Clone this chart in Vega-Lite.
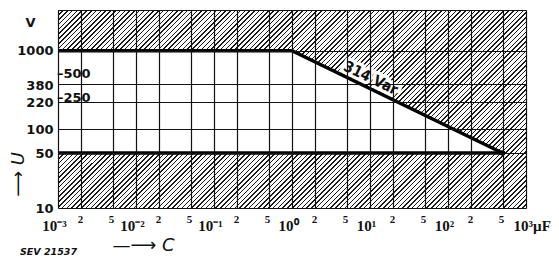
{
  "$schema": "https://vega.github.io/schema/vega-lite/v6.json",
  "width": 468,
  "height": 198,
  "autosize": {"type": "none"},
  "padding": {"left": 58, "top": 10, "right": 33, "bottom": 50},
  "background": "white",
  "config": {"view": {"stroke": null}},
  "title": {"text": "SEV 21537", "orient": "bottom", "anchor": "start", "frame": "group", "dx": -38, "dy": -11, "fontSize": 9.5, "fontStyle": "italic", "fontWeight": "bold", "font": "DejaVu Sans", "color": "#111"},
  "datasets": {
    "limit": [
      {"C": 0.001, "Umax": 1000, "Umin": 50},
      {"C": 1, "Umax": 1000, "Umin": 50},
      {"C": 500, "Umax": 50, "Umin": 50}
    ],
    "notes": [
      {"C": 0.001, "U": 500, "label": "–500"},
      {"C": 0.001, "U": 250, "label": "–250"}
    ],
    "curve": [
      {"C": 9, "U": 347, "label": "314 Var"}
    ]
  },
  "layer": [
    {
      "data": {"values": [{"region": "forbidden"}]},
      "mark": {"type": "rect", "stroke": null, "fill": {"gradient": "linear", "x1": 0, "y1": 0, "x2": 1.207, "y2": 0.5107, "stops": [
{"offset":0,"color":"#1a1a1a"},{"offset":0.0022,"color":"#1a1a1a"},{"offset":0.0022,"color":"#fff"},
{"offset":0.0072,"color":"#fff"},{"offset":0.0072,"color":"#1a1a1a"},{"offset":0.0094,"color":"#1a1a1a"},{"offset":0.0094,"color":"#fff"},
{"offset":0.0144,"color":"#fff"},{"offset":0.0144,"color":"#1a1a1a"},{"offset":0.0166,"color":"#1a1a1a"},{"offset":0.0166,"color":"#fff"},
{"offset":0.0216,"color":"#fff"},{"offset":0.0216,"color":"#1a1a1a"},{"offset":0.0238,"color":"#1a1a1a"},{"offset":0.0238,"color":"#fff"},
{"offset":0.0288,"color":"#fff"},{"offset":0.0288,"color":"#1a1a1a"},{"offset":0.031,"color":"#1a1a1a"},{"offset":0.031,"color":"#fff"},
{"offset":0.036,"color":"#fff"},{"offset":0.036,"color":"#1a1a1a"},{"offset":0.0382,"color":"#1a1a1a"},{"offset":0.0382,"color":"#fff"},
{"offset":0.0432,"color":"#fff"},{"offset":0.0432,"color":"#1a1a1a"},{"offset":0.0454,"color":"#1a1a1a"},{"offset":0.0454,"color":"#fff"},
{"offset":0.0504,"color":"#fff"},{"offset":0.0504,"color":"#1a1a1a"},{"offset":0.0526,"color":"#1a1a1a"},{"offset":0.0526,"color":"#fff"},
{"offset":0.0576,"color":"#fff"},{"offset":0.0576,"color":"#1a1a1a"},{"offset":0.0598,"color":"#1a1a1a"},{"offset":0.0598,"color":"#fff"},
{"offset":0.0648,"color":"#fff"},{"offset":0.0648,"color":"#1a1a1a"},{"offset":0.067,"color":"#1a1a1a"},{"offset":0.067,"color":"#fff"},
{"offset":0.072,"color":"#fff"},{"offset":0.072,"color":"#1a1a1a"},{"offset":0.0742,"color":"#1a1a1a"},{"offset":0.0742,"color":"#fff"},
{"offset":0.0792,"color":"#fff"},{"offset":0.0792,"color":"#1a1a1a"},{"offset":0.0814,"color":"#1a1a1a"},{"offset":0.0814,"color":"#fff"},
{"offset":0.0864,"color":"#fff"},{"offset":0.0864,"color":"#1a1a1a"},{"offset":0.0886,"color":"#1a1a1a"},{"offset":0.0886,"color":"#fff"},
{"offset":0.0936,"color":"#fff"},{"offset":0.0936,"color":"#1a1a1a"},{"offset":0.0958,"color":"#1a1a1a"},{"offset":0.0958,"color":"#fff"},
{"offset":0.1008,"color":"#fff"},{"offset":0.1008,"color":"#1a1a1a"},{"offset":0.103,"color":"#1a1a1a"},{"offset":0.103,"color":"#fff"},
{"offset":0.108,"color":"#fff"},{"offset":0.108,"color":"#1a1a1a"},{"offset":0.1102,"color":"#1a1a1a"},{"offset":0.1102,"color":"#fff"},
{"offset":0.1152,"color":"#fff"},{"offset":0.1152,"color":"#1a1a1a"},{"offset":0.1174,"color":"#1a1a1a"},{"offset":0.1174,"color":"#fff"},
{"offset":0.1224,"color":"#fff"},{"offset":0.1224,"color":"#1a1a1a"},{"offset":0.1246,"color":"#1a1a1a"},{"offset":0.1246,"color":"#fff"},
{"offset":0.1296,"color":"#fff"},{"offset":0.1296,"color":"#1a1a1a"},{"offset":0.1318,"color":"#1a1a1a"},{"offset":0.1318,"color":"#fff"},
{"offset":0.1368,"color":"#fff"},{"offset":0.1368,"color":"#1a1a1a"},{"offset":0.139,"color":"#1a1a1a"},{"offset":0.139,"color":"#fff"},
{"offset":0.144,"color":"#fff"},{"offset":0.144,"color":"#1a1a1a"},{"offset":0.1462,"color":"#1a1a1a"},{"offset":0.1462,"color":"#fff"},
{"offset":0.1512,"color":"#fff"},{"offset":0.1512,"color":"#1a1a1a"},{"offset":0.1534,"color":"#1a1a1a"},{"offset":0.1534,"color":"#fff"},
{"offset":0.1584,"color":"#fff"},{"offset":0.1584,"color":"#1a1a1a"},{"offset":0.1606,"color":"#1a1a1a"},{"offset":0.1606,"color":"#fff"},
{"offset":0.1656,"color":"#fff"},{"offset":0.1656,"color":"#1a1a1a"},{"offset":0.1678,"color":"#1a1a1a"},{"offset":0.1678,"color":"#fff"},
{"offset":0.1728,"color":"#fff"},{"offset":0.1728,"color":"#1a1a1a"},{"offset":0.175,"color":"#1a1a1a"},{"offset":0.175,"color":"#fff"},
{"offset":0.18,"color":"#fff"},{"offset":0.18,"color":"#1a1a1a"},{"offset":0.1822,"color":"#1a1a1a"},{"offset":0.1822,"color":"#fff"},
{"offset":0.1872,"color":"#fff"},{"offset":0.1872,"color":"#1a1a1a"},{"offset":0.1894,"color":"#1a1a1a"},{"offset":0.1894,"color":"#fff"},
{"offset":0.1944,"color":"#fff"},{"offset":0.1944,"color":"#1a1a1a"},{"offset":0.1966,"color":"#1a1a1a"},{"offset":0.1966,"color":"#fff"},
{"offset":0.2016,"color":"#fff"},{"offset":0.2016,"color":"#1a1a1a"},{"offset":0.2038,"color":"#1a1a1a"},{"offset":0.2038,"color":"#fff"},
{"offset":0.2088,"color":"#fff"},{"offset":0.2088,"color":"#1a1a1a"},{"offset":0.211,"color":"#1a1a1a"},{"offset":0.211,"color":"#fff"},
{"offset":0.216,"color":"#fff"},{"offset":0.216,"color":"#1a1a1a"},{"offset":0.2182,"color":"#1a1a1a"},{"offset":0.2182,"color":"#fff"},
{"offset":0.2232,"color":"#fff"},{"offset":0.2232,"color":"#1a1a1a"},{"offset":0.2254,"color":"#1a1a1a"},{"offset":0.2254,"color":"#fff"},
{"offset":0.2304,"color":"#fff"},{"offset":0.2304,"color":"#1a1a1a"},{"offset":0.2326,"color":"#1a1a1a"},{"offset":0.2326,"color":"#fff"},
{"offset":0.2376,"color":"#fff"},{"offset":0.2376,"color":"#1a1a1a"},{"offset":0.2398,"color":"#1a1a1a"},{"offset":0.2398,"color":"#fff"},
{"offset":0.2448,"color":"#fff"},{"offset":0.2448,"color":"#1a1a1a"},{"offset":0.247,"color":"#1a1a1a"},{"offset":0.247,"color":"#fff"},
{"offset":0.252,"color":"#fff"},{"offset":0.252,"color":"#1a1a1a"},{"offset":0.2542,"color":"#1a1a1a"},{"offset":0.2542,"color":"#fff"},
{"offset":0.2592,"color":"#fff"},{"offset":0.2592,"color":"#1a1a1a"},{"offset":0.2614,"color":"#1a1a1a"},{"offset":0.2614,"color":"#fff"},
{"offset":0.2664,"color":"#fff"},{"offset":0.2664,"color":"#1a1a1a"},{"offset":0.2686,"color":"#1a1a1a"},{"offset":0.2686,"color":"#fff"},
{"offset":0.2736,"color":"#fff"},{"offset":0.2736,"color":"#1a1a1a"},{"offset":0.2758,"color":"#1a1a1a"},{"offset":0.2758,"color":"#fff"},
{"offset":0.2808,"color":"#fff"},{"offset":0.2808,"color":"#1a1a1a"},{"offset":0.283,"color":"#1a1a1a"},{"offset":0.283,"color":"#fff"},
{"offset":0.288,"color":"#fff"},{"offset":0.288,"color":"#1a1a1a"},{"offset":0.2902,"color":"#1a1a1a"},{"offset":0.2902,"color":"#fff"},
{"offset":0.2952,"color":"#fff"},{"offset":0.2952,"color":"#1a1a1a"},{"offset":0.2974,"color":"#1a1a1a"},{"offset":0.2974,"color":"#fff"},
{"offset":0.3024,"color":"#fff"},{"offset":0.3024,"color":"#1a1a1a"},{"offset":0.3046,"color":"#1a1a1a"},{"offset":0.3046,"color":"#fff"},
{"offset":0.3096,"color":"#fff"},{"offset":0.3096,"color":"#1a1a1a"},{"offset":0.3118,"color":"#1a1a1a"},{"offset":0.3118,"color":"#fff"},
{"offset":0.3168,"color":"#fff"},{"offset":0.3168,"color":"#1a1a1a"},{"offset":0.319,"color":"#1a1a1a"},{"offset":0.319,"color":"#fff"},
{"offset":0.324,"color":"#fff"},{"offset":0.324,"color":"#1a1a1a"},{"offset":0.3262,"color":"#1a1a1a"},{"offset":0.3262,"color":"#fff"},
{"offset":0.3312,"color":"#fff"},{"offset":0.3312,"color":"#1a1a1a"},{"offset":0.3334,"color":"#1a1a1a"},{"offset":0.3334,"color":"#fff"},
{"offset":0.3384,"color":"#fff"},{"offset":0.3384,"color":"#1a1a1a"},{"offset":0.3406,"color":"#1a1a1a"},{"offset":0.3406,"color":"#fff"},
{"offset":0.3456,"color":"#fff"},{"offset":0.3456,"color":"#1a1a1a"},{"offset":0.3478,"color":"#1a1a1a"},{"offset":0.3478,"color":"#fff"},
{"offset":0.3528,"color":"#fff"},{"offset":0.3528,"color":"#1a1a1a"},{"offset":0.355,"color":"#1a1a1a"},{"offset":0.355,"color":"#fff"},
{"offset":0.36,"color":"#fff"},{"offset":0.36,"color":"#1a1a1a"},{"offset":0.3622,"color":"#1a1a1a"},{"offset":0.3622,"color":"#fff"},
{"offset":0.3672,"color":"#fff"},{"offset":0.3672,"color":"#1a1a1a"},{"offset":0.3694,"color":"#1a1a1a"},{"offset":0.3694,"color":"#fff"},
{"offset":0.3744,"color":"#fff"},{"offset":0.3744,"color":"#1a1a1a"},{"offset":0.3766,"color":"#1a1a1a"},{"offset":0.3766,"color":"#fff"},
{"offset":0.3816,"color":"#fff"},{"offset":0.3816,"color":"#1a1a1a"},{"offset":0.3838,"color":"#1a1a1a"},{"offset":0.3838,"color":"#fff"},
{"offset":0.3888,"color":"#fff"},{"offset":0.3888,"color":"#1a1a1a"},{"offset":0.391,"color":"#1a1a1a"},{"offset":0.391,"color":"#fff"},
{"offset":0.396,"color":"#fff"},{"offset":0.396,"color":"#1a1a1a"},{"offset":0.3982,"color":"#1a1a1a"},{"offset":0.3982,"color":"#fff"},
{"offset":0.4032,"color":"#fff"},{"offset":0.4032,"color":"#1a1a1a"},{"offset":0.4054,"color":"#1a1a1a"},{"offset":0.4054,"color":"#fff"},
{"offset":0.4104,"color":"#fff"},{"offset":0.4104,"color":"#1a1a1a"},{"offset":0.4126,"color":"#1a1a1a"},{"offset":0.4126,"color":"#fff"},
{"offset":0.4176,"color":"#fff"},{"offset":0.4176,"color":"#1a1a1a"},{"offset":0.4198,"color":"#1a1a1a"},{"offset":0.4198,"color":"#fff"},
{"offset":0.4248,"color":"#fff"},{"offset":0.4248,"color":"#1a1a1a"},{"offset":0.427,"color":"#1a1a1a"},{"offset":0.427,"color":"#fff"},
{"offset":0.432,"color":"#fff"},{"offset":0.432,"color":"#1a1a1a"},{"offset":0.4342,"color":"#1a1a1a"},{"offset":0.4342,"color":"#fff"},
{"offset":0.4392,"color":"#fff"},{"offset":0.4392,"color":"#1a1a1a"},{"offset":0.4414,"color":"#1a1a1a"},{"offset":0.4414,"color":"#fff"},
{"offset":0.4464,"color":"#fff"},{"offset":0.4464,"color":"#1a1a1a"},{"offset":0.4486,"color":"#1a1a1a"},{"offset":0.4486,"color":"#fff"},
{"offset":0.4536,"color":"#fff"},{"offset":0.4536,"color":"#1a1a1a"},{"offset":0.4558,"color":"#1a1a1a"},{"offset":0.4558,"color":"#fff"},
{"offset":0.4608,"color":"#fff"},{"offset":0.4608,"color":"#1a1a1a"},{"offset":0.463,"color":"#1a1a1a"},{"offset":0.463,"color":"#fff"},
{"offset":0.468,"color":"#fff"},{"offset":0.468,"color":"#1a1a1a"},{"offset":0.4702,"color":"#1a1a1a"},{"offset":0.4702,"color":"#fff"},
{"offset":0.4752,"color":"#fff"},{"offset":0.4752,"color":"#1a1a1a"},{"offset":0.4774,"color":"#1a1a1a"},{"offset":0.4774,"color":"#fff"},
{"offset":0.4824,"color":"#fff"},{"offset":0.4824,"color":"#1a1a1a"},{"offset":0.4846,"color":"#1a1a1a"},{"offset":0.4846,"color":"#fff"},
{"offset":0.4896,"color":"#fff"},{"offset":0.4896,"color":"#1a1a1a"},{"offset":0.4918,"color":"#1a1a1a"},{"offset":0.4918,"color":"#fff"},
{"offset":0.4968,"color":"#fff"},{"offset":0.4968,"color":"#1a1a1a"},{"offset":0.499,"color":"#1a1a1a"},{"offset":0.499,"color":"#fff"},
{"offset":0.504,"color":"#fff"},{"offset":0.504,"color":"#1a1a1a"},{"offset":0.5062,"color":"#1a1a1a"},{"offset":0.5062,"color":"#fff"},
{"offset":0.5112,"color":"#fff"},{"offset":0.5112,"color":"#1a1a1a"},{"offset":0.5134,"color":"#1a1a1a"},{"offset":0.5134,"color":"#fff"},
{"offset":0.5184,"color":"#fff"},{"offset":0.5184,"color":"#1a1a1a"},{"offset":0.5206,"color":"#1a1a1a"},{"offset":0.5206,"color":"#fff"},
{"offset":0.5256,"color":"#fff"},{"offset":0.5256,"color":"#1a1a1a"},{"offset":0.5278,"color":"#1a1a1a"},{"offset":0.5278,"color":"#fff"},
{"offset":0.5328,"color":"#fff"},{"offset":0.5328,"color":"#1a1a1a"},{"offset":0.535,"color":"#1a1a1a"},{"offset":0.535,"color":"#fff"},
{"offset":0.54,"color":"#fff"},{"offset":0.54,"color":"#1a1a1a"},{"offset":0.5422,"color":"#1a1a1a"},{"offset":0.5422,"color":"#fff"},
{"offset":0.5472,"color":"#fff"},{"offset":0.5472,"color":"#1a1a1a"},{"offset":0.5494,"color":"#1a1a1a"},{"offset":0.5494,"color":"#fff"},
{"offset":0.5544,"color":"#fff"},{"offset":0.5544,"color":"#1a1a1a"},{"offset":0.5566,"color":"#1a1a1a"},{"offset":0.5566,"color":"#fff"},
{"offset":0.5616,"color":"#fff"},{"offset":0.5616,"color":"#1a1a1a"},{"offset":0.5638,"color":"#1a1a1a"},{"offset":0.5638,"color":"#fff"},
{"offset":0.5688,"color":"#fff"},{"offset":0.5688,"color":"#1a1a1a"},{"offset":0.571,"color":"#1a1a1a"},{"offset":0.571,"color":"#fff"},
{"offset":0.576,"color":"#fff"},{"offset":0.576,"color":"#1a1a1a"},{"offset":0.5782,"color":"#1a1a1a"},{"offset":0.5782,"color":"#fff"},
{"offset":0.5832,"color":"#fff"},{"offset":0.5832,"color":"#1a1a1a"},{"offset":0.5854,"color":"#1a1a1a"},{"offset":0.5854,"color":"#fff"},
{"offset":0.5904,"color":"#fff"},{"offset":0.5904,"color":"#1a1a1a"},{"offset":0.5926,"color":"#1a1a1a"},{"offset":0.5926,"color":"#fff"},
{"offset":0.5976,"color":"#fff"},{"offset":0.5976,"color":"#1a1a1a"},{"offset":0.5998,"color":"#1a1a1a"},{"offset":0.5998,"color":"#fff"},
{"offset":0.6048,"color":"#fff"},{"offset":0.6048,"color":"#1a1a1a"},{"offset":0.607,"color":"#1a1a1a"},{"offset":0.607,"color":"#fff"},
{"offset":0.612,"color":"#fff"},{"offset":0.612,"color":"#1a1a1a"},{"offset":0.6142,"color":"#1a1a1a"},{"offset":0.6142,"color":"#fff"},
{"offset":0.6192,"color":"#fff"},{"offset":0.6192,"color":"#1a1a1a"},{"offset":0.6214,"color":"#1a1a1a"},{"offset":0.6214,"color":"#fff"},
{"offset":0.6264,"color":"#fff"},{"offset":0.6264,"color":"#1a1a1a"},{"offset":0.6286,"color":"#1a1a1a"},{"offset":0.6286,"color":"#fff"},
{"offset":0.6336,"color":"#fff"},{"offset":0.6336,"color":"#1a1a1a"},{"offset":0.6358,"color":"#1a1a1a"},{"offset":0.6358,"color":"#fff"},
{"offset":0.6408,"color":"#fff"},{"offset":0.6408,"color":"#1a1a1a"},{"offset":0.643,"color":"#1a1a1a"},{"offset":0.643,"color":"#fff"},
{"offset":0.648,"color":"#fff"},{"offset":0.648,"color":"#1a1a1a"},{"offset":0.6502,"color":"#1a1a1a"},{"offset":0.6502,"color":"#fff"},
{"offset":0.6552,"color":"#fff"},{"offset":0.6552,"color":"#1a1a1a"},{"offset":0.6574,"color":"#1a1a1a"},{"offset":0.6574,"color":"#fff"},
{"offset":0.6624,"color":"#fff"},{"offset":0.6624,"color":"#1a1a1a"},{"offset":0.6646,"color":"#1a1a1a"},{"offset":0.6646,"color":"#fff"},
{"offset":0.6696,"color":"#fff"},{"offset":0.6696,"color":"#1a1a1a"},{"offset":0.6718,"color":"#1a1a1a"},{"offset":0.6718,"color":"#fff"},
{"offset":0.6768,"color":"#fff"},{"offset":0.6768,"color":"#1a1a1a"},{"offset":0.679,"color":"#1a1a1a"},{"offset":0.679,"color":"#fff"},
{"offset":0.684,"color":"#fff"},{"offset":0.684,"color":"#1a1a1a"},{"offset":0.6862,"color":"#1a1a1a"},{"offset":0.6862,"color":"#fff"},
{"offset":0.6912,"color":"#fff"},{"offset":0.6912,"color":"#1a1a1a"},{"offset":0.6934,"color":"#1a1a1a"},{"offset":0.6934,"color":"#fff"},
{"offset":0.6984,"color":"#fff"},{"offset":0.6984,"color":"#1a1a1a"},{"offset":0.7006,"color":"#1a1a1a"},{"offset":0.7006,"color":"#fff"},
{"offset":0.7056,"color":"#fff"},{"offset":0.7056,"color":"#1a1a1a"},{"offset":0.7078,"color":"#1a1a1a"},{"offset":0.7078,"color":"#fff"},
{"offset":0.7128,"color":"#fff"},{"offset":0.7128,"color":"#1a1a1a"},{"offset":0.715,"color":"#1a1a1a"},{"offset":0.715,"color":"#fff"},
{"offset":0.72,"color":"#fff"},{"offset":0.72,"color":"#1a1a1a"},{"offset":0.7222,"color":"#1a1a1a"},{"offset":0.7222,"color":"#fff"},
{"offset":0.7272,"color":"#fff"},{"offset":0.7272,"color":"#1a1a1a"},{"offset":0.7294,"color":"#1a1a1a"},{"offset":0.7294,"color":"#fff"},
{"offset":0.7344,"color":"#fff"},{"offset":0.7344,"color":"#1a1a1a"},{"offset":0.7366,"color":"#1a1a1a"},{"offset":0.7366,"color":"#fff"},
{"offset":0.7416,"color":"#fff"},{"offset":0.7416,"color":"#1a1a1a"},{"offset":0.7438,"color":"#1a1a1a"},{"offset":0.7438,"color":"#fff"},
{"offset":0.7488,"color":"#fff"},{"offset":0.7488,"color":"#1a1a1a"},{"offset":0.751,"color":"#1a1a1a"},{"offset":0.751,"color":"#fff"},
{"offset":0.756,"color":"#fff"},{"offset":0.756,"color":"#1a1a1a"},{"offset":0.7582,"color":"#1a1a1a"},{"offset":0.7582,"color":"#fff"},
{"offset":0.7632,"color":"#fff"},{"offset":0.7632,"color":"#1a1a1a"},{"offset":0.7654,"color":"#1a1a1a"},{"offset":0.7654,"color":"#fff"},
{"offset":0.7704,"color":"#fff"},{"offset":0.7704,"color":"#1a1a1a"},{"offset":0.7726,"color":"#1a1a1a"},{"offset":0.7726,"color":"#fff"},
{"offset":0.7776,"color":"#fff"},{"offset":0.7776,"color":"#1a1a1a"},{"offset":0.7798,"color":"#1a1a1a"},{"offset":0.7798,"color":"#fff"},
{"offset":0.7848,"color":"#fff"},{"offset":0.7848,"color":"#1a1a1a"},{"offset":0.787,"color":"#1a1a1a"},{"offset":0.787,"color":"#fff"},
{"offset":0.792,"color":"#fff"},{"offset":0.792,"color":"#1a1a1a"},{"offset":0.7942,"color":"#1a1a1a"},{"offset":0.7942,"color":"#fff"},
{"offset":0.7992,"color":"#fff"},{"offset":0.7992,"color":"#1a1a1a"},{"offset":0.8014,"color":"#1a1a1a"},{"offset":0.8014,"color":"#fff"},
{"offset":0.8064,"color":"#fff"},{"offset":0.8064,"color":"#1a1a1a"},{"offset":0.8086,"color":"#1a1a1a"},{"offset":0.8086,"color":"#fff"},
{"offset":0.8136,"color":"#fff"},{"offset":0.8136,"color":"#1a1a1a"},{"offset":0.8158,"color":"#1a1a1a"},{"offset":0.8158,"color":"#fff"},
{"offset":0.8208,"color":"#fff"},{"offset":0.8208,"color":"#1a1a1a"},{"offset":0.823,"color":"#1a1a1a"},{"offset":0.823,"color":"#fff"},
{"offset":0.828,"color":"#fff"},{"offset":0.828,"color":"#1a1a1a"},{"offset":0.8302,"color":"#1a1a1a"},{"offset":0.8302,"color":"#fff"},
{"offset":0.8352,"color":"#fff"},{"offset":0.8352,"color":"#1a1a1a"},{"offset":0.8374,"color":"#1a1a1a"},{"offset":0.8374,"color":"#fff"},
{"offset":0.8424,"color":"#fff"},{"offset":0.8424,"color":"#1a1a1a"},{"offset":0.8446,"color":"#1a1a1a"},{"offset":0.8446,"color":"#fff"},
{"offset":0.8496,"color":"#fff"},{"offset":0.8496,"color":"#1a1a1a"},{"offset":0.8518,"color":"#1a1a1a"},{"offset":0.8518,"color":"#fff"},
{"offset":0.8568,"color":"#fff"},{"offset":0.8568,"color":"#1a1a1a"},{"offset":0.859,"color":"#1a1a1a"},{"offset":0.859,"color":"#fff"},
{"offset":0.864,"color":"#fff"},{"offset":0.864,"color":"#1a1a1a"},{"offset":0.8662,"color":"#1a1a1a"},{"offset":0.8662,"color":"#fff"},
{"offset":0.8712,"color":"#fff"},{"offset":0.8712,"color":"#1a1a1a"},{"offset":0.8734,"color":"#1a1a1a"},{"offset":0.8734,"color":"#fff"},
{"offset":0.8784,"color":"#fff"},{"offset":0.8784,"color":"#1a1a1a"},{"offset":0.8806,"color":"#1a1a1a"},{"offset":0.8806,"color":"#fff"},
{"offset":0.8856,"color":"#fff"},{"offset":0.8856,"color":"#1a1a1a"},{"offset":0.8878,"color":"#1a1a1a"},{"offset":0.8878,"color":"#fff"},
{"offset":0.8928,"color":"#fff"},{"offset":0.8928,"color":"#1a1a1a"},{"offset":0.895,"color":"#1a1a1a"},{"offset":0.895,"color":"#fff"},
{"offset":0.9,"color":"#fff"},{"offset":0.9,"color":"#1a1a1a"},{"offset":0.9022,"color":"#1a1a1a"},{"offset":0.9022,"color":"#fff"},
{"offset":0.9072,"color":"#fff"},{"offset":0.9072,"color":"#1a1a1a"},{"offset":0.9094,"color":"#1a1a1a"},{"offset":0.9094,"color":"#fff"},
{"offset":0.9144,"color":"#fff"},{"offset":0.9144,"color":"#1a1a1a"},{"offset":0.9166,"color":"#1a1a1a"},{"offset":0.9166,"color":"#fff"},
{"offset":0.9216,"color":"#fff"},{"offset":0.9216,"color":"#1a1a1a"},{"offset":0.9238,"color":"#1a1a1a"},{"offset":0.9238,"color":"#fff"},
{"offset":0.9288,"color":"#fff"},{"offset":0.9288,"color":"#1a1a1a"},{"offset":0.931,"color":"#1a1a1a"},{"offset":0.931,"color":"#fff"},
{"offset":0.936,"color":"#fff"},{"offset":0.936,"color":"#1a1a1a"},{"offset":0.9382,"color":"#1a1a1a"},{"offset":0.9382,"color":"#fff"},
{"offset":0.9432,"color":"#fff"},{"offset":0.9432,"color":"#1a1a1a"},{"offset":0.9454,"color":"#1a1a1a"},{"offset":0.9454,"color":"#fff"},
{"offset":0.9504,"color":"#fff"},{"offset":0.9504,"color":"#1a1a1a"},{"offset":0.9526,"color":"#1a1a1a"},{"offset":0.9526,"color":"#fff"},
{"offset":0.9576,"color":"#fff"},{"offset":0.9576,"color":"#1a1a1a"},{"offset":0.9598,"color":"#1a1a1a"},{"offset":0.9598,"color":"#fff"},
{"offset":0.9648,"color":"#fff"},{"offset":0.9648,"color":"#1a1a1a"},{"offset":0.967,"color":"#1a1a1a"},{"offset":0.967,"color":"#fff"},
{"offset":0.972,"color":"#fff"},{"offset":0.972,"color":"#1a1a1a"},{"offset":0.9742,"color":"#1a1a1a"},{"offset":0.9742,"color":"#fff"},
{"offset":0.9792,"color":"#fff"},{"offset":0.9792,"color":"#1a1a1a"},{"offset":0.9814,"color":"#1a1a1a"},{"offset":0.9814,"color":"#fff"},
{"offset":0.9864,"color":"#fff"},{"offset":0.9864,"color":"#1a1a1a"},{"offset":0.9886,"color":"#1a1a1a"},{"offset":0.9886,"color":"#fff"},
{"offset":0.9936,"color":"#fff"},{"offset":0.9936,"color":"#1a1a1a"},{"offset":0.9958,"color":"#1a1a1a"},{"offset":0.9958,"color":"#fff"},
{"offset":1,"color":"#fff"}
      ]}},
      "encoding": {
        "x": {"datum": 0.001, "type": "quantitative", "scale": {"type": "log", "domain": [0.001, 1000], "nice": false},
          "axis": {
            "values": [0.001, 0.002, 0.005, 0.01, 0.02, 0.05, 0.1, 0.2, 0.5, 1, 2, 5, 10, 20, 50, 100, 200, 500, 1000],
            "labelExpr": "datum.value==0.001?'10⁻³':datum.value==0.01?'10⁻²':datum.value==0.1?'10⁻¹':datum.value==1?'10⁰':datum.value==10?'10¹':datum.value==100?'10²':datum.value==1000?'10³µF':substring(format(datum.value,'.0e'),0,1)",
            "zindex": 1,
            "grid": true, "gridColor": "#111", "gridWidth": 1.2, "gridOpacity": 1,
            "ticks": false, "domain": false,
            "labelOverlap": false, "labelFlush": false, "labelBound": false,
            "labelFont": "Liberation Sans Narrow", "labelFontWeight": "bold", "labelColor": "#111",
            "labelBaseline": "top",
            "labelFontSize": {"condition": {"test": "indexof([0.001,0.01,0.1,1,10,100,1000], datum.value) >= 0", "value": 15}, "value": 11},
            "labelPadding": {"condition": {"test": "indexof([0.001,0.01,0.1,1,10,100,1000], datum.value) >= 0", "value": 10}, "value": 5},
            "labelAlign": {"condition": {"test": "datum.value==1000", "value": "left"}, "value": "center"},
            "labelOffset": {"condition": [{"test": "datum.value==1000", "value": -13}, {"test": "indexof([0.001,0.01,0.1,1,10,100], datum.value) >= 0", "value": -4}], "value": -1.5},
            "title": "—⟶ C", "titleFont": "DejaVu Sans", "titleFontSize": 18, "titleFontStyle": "italic", "titleFontWeight": "normal", "titleColor": "#111",
            "titleX": 54, "titleY": 42, "titleAlign": "left", "titleBaseline": "alphabetic"
          }},
        "x2": {"datum": 1000},
        "y": {"datum": 10, "type": "quantitative", "scale": {"type": "log", "domain": [10, 3300], "nice": false},
          "axis": {
            "values": [10, 50, 100, 220, 380, 1000, 2300, 3300],
            "labelExpr": "datum.value==2300?'V':datum.value==3300?'':format(datum.value,'d')",
            "zindex": 1,
            "grid": true, "gridColor": "#111", "gridWidth": 1.2,
            "gridOpacity": {"condition": {"test": "datum.value==2300", "value": 0}, "value": 1},
            "ticks": false, "domain": false,
            "labelOverlap": false, "labelFlush": false, "labelBound": false,
            "labelFont": "DejaVu Sans", "labelFontWeight": "bold", "labelFontSize": 13, "labelColor": "#111",
            "labelBaseline": "middle",
            "labelPadding": {"condition": {"test": "datum.value==2300", "value": 23}, "value": 5},
            "labelOffset": {"condition": {"test": "datum.value==380", "value": 2}, "value": 0},
            "title": "⟶ U", "titleFont": "DejaVu Sans", "titleFontSize": 18, "titleFontStyle": "italic", "titleFontWeight": "normal", "titleColor": "#111",
            "titleX": -40, "titleY": 164, "titleAlign": "center", "titleBaseline": "middle", "titleAngle": -90
          }},
        "y2": {"datum": 3300}
      }
    },
    {
      "data": {"name": "limit"},
      "mark": {"type": "area", "color": "white", "opacity": 1},
      "encoding": {
        "x": {"field": "C", "type": "quantitative", "scale": {"type": "log", "domain": [0.001, 1000], "nice": false}},
        "y": {"field": "Umax", "type": "quantitative", "scale": {"type": "log", "domain": [10, 3300], "nice": false}},
        "y2": {"field": "Umin"}
      }
    },
    {
      "data": {"name": "curve"},
      "mark": {"type": "text", "align": "center", "baseline": "alphabetic", "dy": -5, "angle": 26, "font": "DejaVu Sans Condensed", "fontWeight": "bold", "fontSize": 15, "color": "white", "stroke": "white", "strokeWidth": 7, "strokeJoin": "round"},
      "encoding": {
        "x": {"field": "C", "type": "quantitative", "scale": {"type": "log", "domain": [0.001, 1000], "nice": false}},
        "y": {"field": "U", "type": "quantitative", "scale": {"type": "log", "domain": [10, 3300], "nice": false}},
        "text": {"field": "label"}
      }
    },
    {
      "data": {"name": "limit"},
      "mark": {"type": "line", "color": "#000", "strokeWidth": 3.5},
      "encoding": {
        "x": {"field": "C", "type": "quantitative", "scale": {"type": "log", "domain": [0.001, 1000], "nice": false}},
        "y": {"field": "Umax", "type": "quantitative", "scale": {"type": "log", "domain": [10, 3300], "nice": false}}
      }
    },
    {
      "data": {"name": "limit"},
      "mark": {"type": "line", "color": "#000", "strokeWidth": 3.5},
      "encoding": {
        "x": {"field": "C", "type": "quantitative", "scale": {"type": "log", "domain": [0.001, 1000], "nice": false}},
        "y": {"field": "Umin", "type": "quantitative", "scale": {"type": "log", "domain": [10, 3300], "nice": false}}
      }
    },
    {
      "data": {"name": "limit"},
      "transform": [{"filter": "datum.C == 500"}],
      "mark": {"type": "point", "filled": true, "color": "#000", "size": 30, "opacity": 1},
      "encoding": {
        "x": {"field": "C", "type": "quantitative", "scale": {"type": "log", "domain": [0.001, 1000], "nice": false}},
        "y": {"field": "Umin", "type": "quantitative", "scale": {"type": "log", "domain": [10, 3300], "nice": false}}
      }
    },
    {
      "data": {"name": "notes"},
      "mark": {"type": "text", "align": "left", "baseline": "middle", "dx": -1, "font": "DejaVu Sans", "fontWeight": "bold", "fontSize": 13, "color": "#111"},
      "encoding": {
        "x": {"field": "C", "type": "quantitative", "scale": {"type": "log", "domain": [0.001, 1000], "nice": false}},
        "y": {"field": "U", "type": "quantitative", "scale": {"type": "log", "domain": [10, 3300], "nice": false}},
        "text": {"field": "label"}
      }
    },
    {
      "data": {"name": "curve"},
      "mark": {"type": "text", "align": "center", "baseline": "alphabetic", "dy": -5, "angle": 26, "font": "DejaVu Sans Condensed", "fontWeight": "bold", "fontSize": 15, "color": "#111"},
      "encoding": {
        "x": {"field": "C", "type": "quantitative", "scale": {"type": "log", "domain": [0.001, 1000], "nice": false}},
        "y": {"field": "U", "type": "quantitative", "scale": {"type": "log", "domain": [10, 3300], "nice": false}},
        "text": {"field": "label"}
      }
    }
  ]
}
